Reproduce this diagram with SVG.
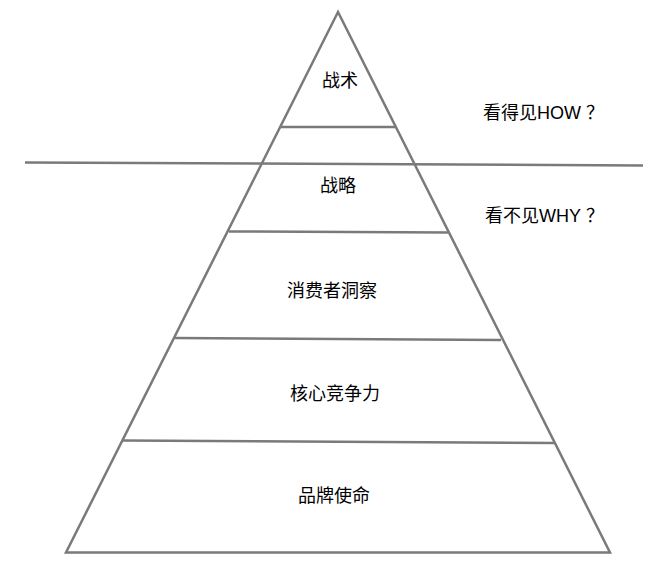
<svg xmlns="http://www.w3.org/2000/svg" width="671" height="585" viewBox="0 0 671 585">
<style>
.ln{stroke:#7a7a7a;stroke-width:2.5;fill:none;stroke-linecap:butt}
.t{font-family:"Liberation Sans","Noto Sans CJK SC",sans-serif;font-size:18px;fill:#000}
.c{text-anchor:middle}
.q{font-family:"Noto Sans CJK SC",sans-serif}
</style>
<rect width="671" height="585" fill="#fff"/>
<g id="connectors">
<path class="ln" d="M338,12 L66,552.5 L610,552.5 Z" stroke-linejoin="miter"/>
<line class="ln" x1="280" y1="127" x2="396" y2="127"/>
<line class="ln" x1="25" y1="162.5" x2="643" y2="165.5"/>
<line class="ln" x1="229" y1="231.5" x2="448" y2="232.5"/>
<line class="ln" x1="175" y1="338" x2="501" y2="340"/>
<line class="ln" x1="122" y1="440.5" x2="555" y2="443"/>
</g>
<g id="tactics"><text class="t c" x="340" y="86.5">战术</text></g>
<g id="strategy"><text class="t c" x="338" y="191.5">战略</text></g>
<g id="insight"><text class="t c" x="332" y="296.5">消费者洞察</text></g>
<g id="competence"><text class="t c" x="335" y="399.5">核心竞争力</text></g>
<g id="mission"><text class="t c" x="334" y="502">品牌使命</text></g>
<g id="visible"><text class="t" x="483" y="119">看得见HOW<tspan class="q" dx="5">？</tspan></text></g>
<g id="invisible"><text class="t" x="485" y="222">看不见WHY<tspan class="q" dx="5">？</tspan></text></g>
</svg>
